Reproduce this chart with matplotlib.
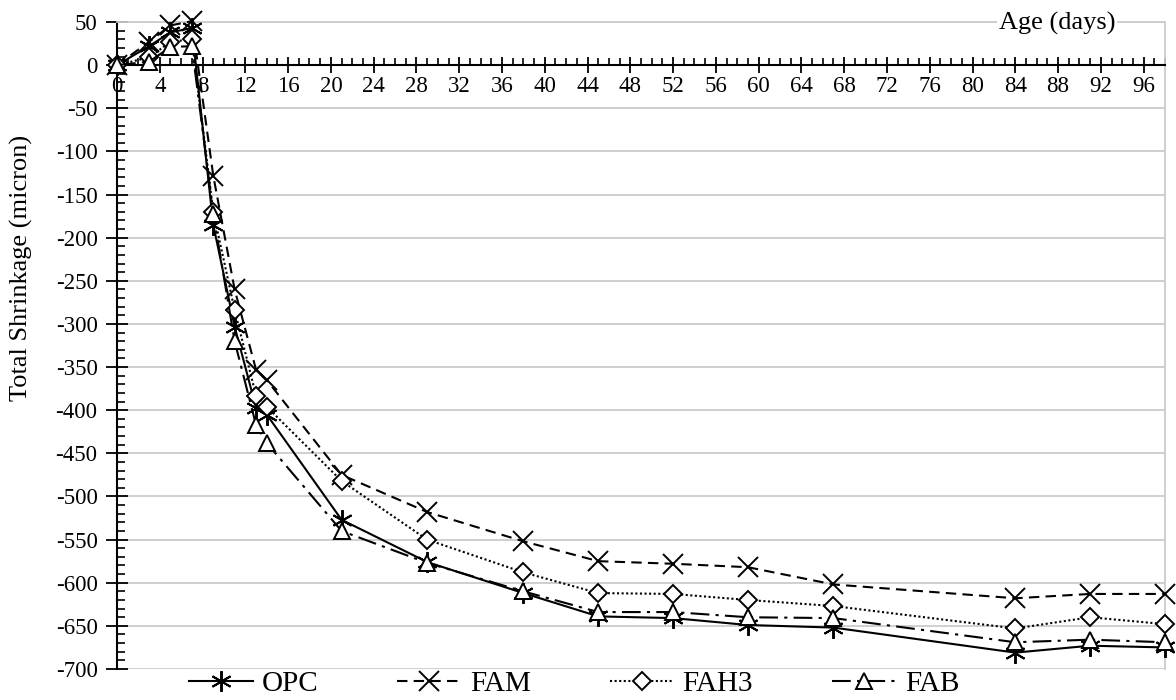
import matplotlib
matplotlib.use("Agg")
import matplotlib.pyplot as plt
from matplotlib.ticker import MultipleLocator

plt.rcParams["font.family"] = ["Liberation Serif", "DejaVu Serif"]
plt.rcParams["axes.unicode_minus"] = False

# age of the specimens (days)
days = [0, 3, 5, 7, 9, 11, 13, 14, 21, 29, 38, 45, 52, 59, 67, 84, 91, 98]

# total shrinkage (micron) for each mix
opc = [0, 22, 38, 43, -185, -303, -397, -405, -527, -576, -612, -639, -641, -649, -652, -681, -673, -675]
fam = [0, 27, 46, 51, -128, -260, -353, -365, -475, -518, -552, -575, -578, -582, -602, -618, -613, -613]
fah3 = [0, 9, 27, 30, -170, -284, -383, -396, -482, -550, -588, -612, -613, -620, -627, -653, -640, -648]
fab = [0, 4, 21, 22, -172, -320, -417, -438, -540, -577, -610, -634, -634, -640, -641, -669, -666, -669]

series = [
    ("OPC", opc, dict(linestyle="-", marker=(6, 2, 0), markersize=15)),
    ("FAM", fam, dict(linestyle=(0, (5, 3)), marker="x", markersize=15)),
    ("FAH3", fah3, dict(linestyle=(0, (1, 1.2)), marker="D", markersize=9)),
    ("FAB", fab, dict(linestyle=(0, (9, 3, 1.5, 3)), marker="^", markersize=12)),
]

fig = plt.figure(figsize=(11.76, 7), dpi=100)
ax = fig.add_axes([117 / 1176, 1 - 669 / 700, (1165 - 117) / 1176, (669 - 22) / 700])

for name, values, style in series:
    ax.plot(
        days,
        values,
        color="black",
        linewidth=1.5,
        markerfacecolor="white",
        markeredgecolor="black",
        markeredgewidth=1.4,
        label=name,
        clip_on=False,
        zorder=3,
        **style,
    )

ax.set_xlim(0, 98)
ax.set_ylim(-700, 50)

# x axis sits on the zero line
ax.spines["bottom"].set_position(("data", 0))
ax.spines["bottom"].set_linewidth(1.5)
ax.spines["left"].set_linewidth(1.5)
for side in ["top", "right"]:
    ax.spines[side].set_color("#cccccc")
    ax.spines[side].set_linewidth(1.3)

ax.xaxis.set_major_locator(MultipleLocator(4))
ax.xaxis.set_minor_locator(MultipleLocator(1))
ax.yaxis.set_major_locator(MultipleLocator(50))
ax.yaxis.set_minor_locator(MultipleLocator(10))

ax.tick_params(axis="x", which="major", direction="inout", length=12, width=1.3, labelsize=16.5, pad=2)
ax.tick_params(axis="x", which="minor", direction="in", length=5, width=1.2)
ax.tick_params(axis="y", which="major", direction="inout", length=16, width=1.3, labelsize=16.5, pad=6)
ax.tick_params(axis="y", which="minor", direction="in", length=6, width=1.2)

ax.yaxis.grid(True, color="#cccccc", linewidth=1.3)
ax.set_axisbelow(True)

ax.set_ylabel("Total Shrinkage (micron)", fontsize=19)
ax.yaxis.set_label_coords(-0.08, 0.62)

ax.text(1057, 700 - 23, "Age (days)", transform=None, fontsize=19, ha="center", va="center",
        bbox=dict(facecolor="white", edgecolor="none", pad=1), zorder=5)

fig.legend(
    loc="center",
    bbox_to_anchor=(0.488, 1 - 684 / 700),
    ncol=4,
    frameon=False,
    fontsize=21,
    handlelength=2.2,
    handletextpad=0.3,
    columnspacing=2.7,
    numpoints=1,
    borderpad=0,
)

fig.savefig("out.png", dpi=100)
